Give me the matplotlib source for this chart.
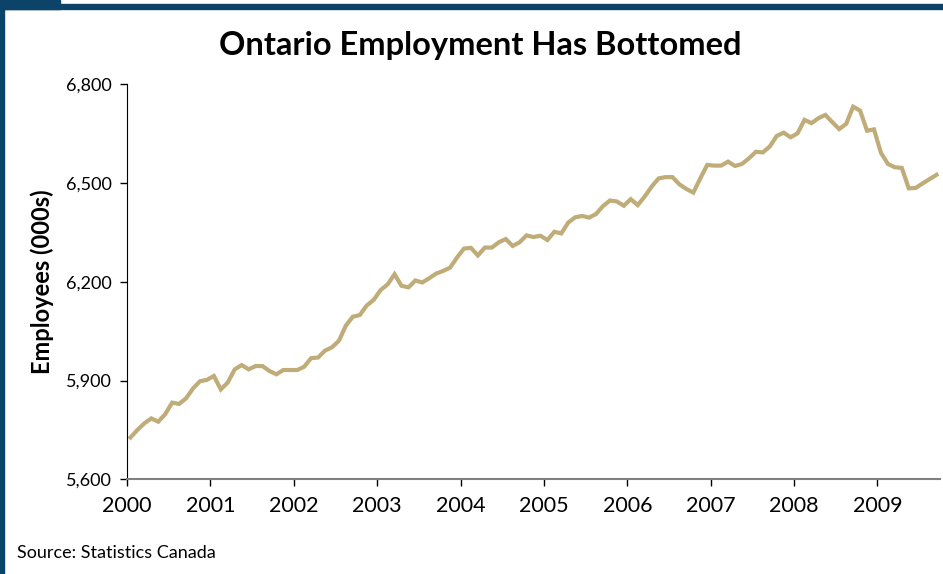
import matplotlib
matplotlib.use("Agg")
import matplotlib.pyplot as plt
from matplotlib.patches import Rectangle

# Ontario employment, monthly, Jan 2000 - Sep 2009 (thousands)
employment = [
    5727, 5750, 5770, 5785, 5775, 5798, 5833, 5829, 5846, 5876, 5898, 5902,
    5914, 5873, 5894, 5934, 5947, 5934, 5944, 5944, 5929, 5919, 5932, 5932,
    5932, 5942, 5968, 5970, 5991, 6001, 6021, 6067, 6094, 6099, 6128, 6145,
    6175, 6192, 6223, 6188, 6183, 6204, 6198, 6211, 6225, 6233, 6243, 6274,
    6301, 6303, 6280, 6304, 6304, 6320, 6330, 6309, 6320, 6341, 6336, 6340,
    6327, 6352, 6347, 6380, 6396, 6400, 6395, 6406, 6430, 6447, 6444, 6431,
    6451, 6433, 6459, 6489, 6514, 6518, 6518, 6496, 6482, 6471, 6514, 6555,
    6553, 6553, 6565, 6552, 6558, 6575, 6595, 6593, 6611, 6643, 6653, 6639,
    6651, 6692, 6682, 6697, 6707, 6685, 6664, 6680, 6732, 6720, 6659, 6663,
    6592, 6558, 6548, 6546, 6484, 6485, 6499, 6512, 6525,
]
years = [str(y) for y in range(2000, 2010)]
y_ticks = [5600, 5900, 6200, 6500, 6800]

plt.rcParams['font.family'] = ['Lato', 'DejaVu Sans']

fig = plt.figure(figsize=(9.43, 5.74), dpi=100)

# dark blue frame
blue = '#0b4468'
fig.patches.append(Rectangle((0, 0), 4 / 943, 1, transform=fig.transFigure,
                             color=blue, zorder=0))
fig.patches.append(Rectangle((0, 1 - 9 / 574), 1, 5 / 574, transform=fig.transFigure,
                             color=blue, zorder=0))
fig.patches.append(Rectangle((0, 1 - 9 / 574), 60 / 943, 9 / 574, transform=fig.transFigure,
                             color=blue, zorder=0))

ax = fig.add_axes([127 / 943, 1 - 479.3 / 574, (940 - 127) / 943, (479.3 - 84.3) / 574])

x = [i + 0.5 for i in range(len(employment))]
ax.plot(x, employment, color='#c0ac78', linewidth=3, solid_joinstyle='miter')

ax.set_xlim(0, 117)
ax.set_ylim(5600, 6800)
ax.set_xticks([12 * i for i in range(len(years))])
ax.set_xticklabels(years, fontsize=15.5)
ax.set_yticks(y_ticks)
ax.set_yticklabels([f"{v:,}" for v in y_ticks], fontsize=13)
ax.tick_params(axis='both', direction='out', length=5, width=1, colors='black', pad=6)
ax.tick_params(axis='x', pad=7)

for side in ['top', 'right']:
    ax.spines[side].set_visible(False)
ax.spines['left'].set_color('black')
ax.spines['bottom'].set_color('#808080')
ax.spines['bottom'].set_linewidth(1.5)

ax.set_ylabel("Employees (000s)", fontsize=17, fontweight='bold')
ax.yaxis.set_label_coords(-(127 - 54) / 813, 0.5)

fig.text(480 / 943, 1 - 45 / 574, "Ontario Employment Has Bottomed",
         ha='center', va='center', fontsize=23.5, fontweight='bold')
fig.text(17 / 943, 1 - 553 / 574, "Source: Statistics Canada",
         ha='left', va='center', fontsize=13)

fig.savefig("out.png", dpi=100)
